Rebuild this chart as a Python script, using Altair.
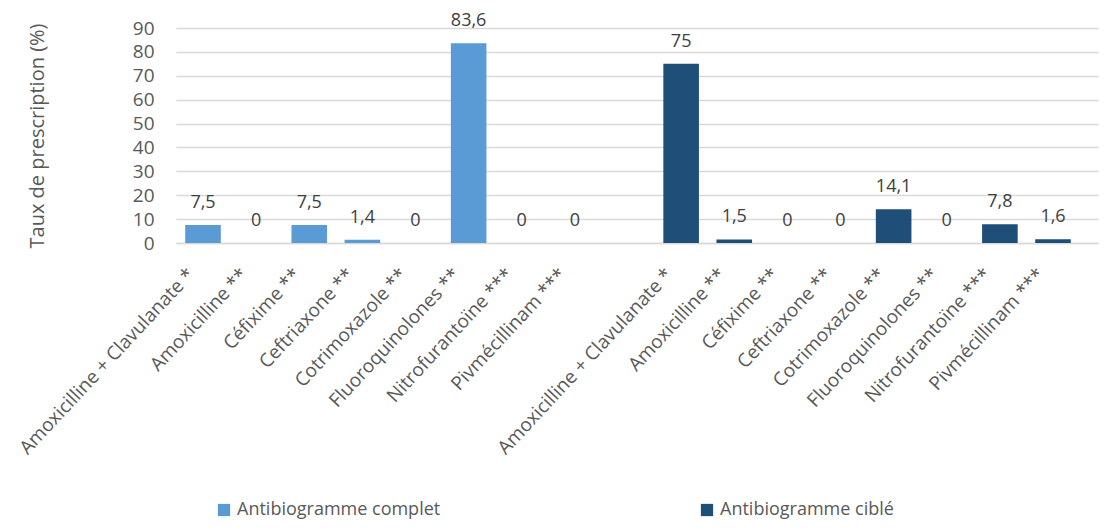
import altair as alt
import pandas as pd

drugs = ["Amoxicilline + Clavulanate *", "Amoxicilline **", "Céfixime **", "Ceftriaxone **",
         "Cotrimoxazole **", "Fluoroquinolones **", "Nitrofurantoïne ***", "Pivmécillinam ***"]
complet_values = [7.5, 0, 7.5, 1.4, 0, 83.6, 0, 0]
cible_values = [75, 1.5, 0, 0, 14.1, 0, 7.8, 1.6]
series_names = ["Antibiogramme complet", "Antibiogramme ciblé"]
series_colors = ["#5B9BD5", "#1F4E79"]
y_ticks = [0, 10, 20, 30, 40, 50, 60, 70, 80, 90]

# second group names carry a zero-width space so that both groups keep their own slot
group2 = [d + "\u200b" for d in drugs]
gap = [" "]
domain = drugs + gap + group2

rows = []
for d, v in zip(drugs, complet_values):
    rows.append({"cat": d, "value": v, "serie": series_names[0]})
for d, v in zip(group2, cible_values):
    rows.append({"cat": d, "value": v, "serie": series_names[1]})
df = pd.DataFrame(rows)

FONT = "Open Sans"
TXT = "#595959"

base = alt.Chart(df).encode(
    x=alt.X("cat:N", scale=alt.Scale(domain=domain, paddingInner=0.33, paddingOuter=0.3427, align=0.253),
            sort=domain,
            axis=alt.Axis(title=None, labelAngle=-47, labelAlign="right", labelBaseline="middle",
                          labelFontSize=19, labelColor=TXT, labelFont=FONT, labelPadding=28,
                          labelOffset=-12,
                          ticks=False, domainColor="#D9D9D9", domainWidth=1.5, labelLimit=400,
                          labelOverlap=False)),
    y=alt.Y("value:Q", scale=alt.Scale(domain=[0, 90]),
            axis=alt.Axis(title="Taux de prescription (%)", values=y_ticks, tickCount=10,
                          labelOverlap=False,
                          titleFontSize=20, titleColor=TXT, titleFont=FONT, titleFontWeight="normal",
                          titlePadding=85,
                          labelFontSize=19, labelColor=TXT, labelFont=FONT, labelPadding=22,
                          ticks=False, domain=False, gridColor="#D9D9D9", gridWidth=1.5)),
)

bars = base.mark_bar().encode(
    color=alt.Color("serie:N", scale=alt.Scale(domain=series_names, range=series_colors),
                    legend=alt.Legend(title=None, orient="none", direction="horizontal",
                                      legendX=39, legendY=473, symbolType="square",
                                      symbolSize=150, symbolStrokeWidth=0,
                                      labelFontSize=18, labelFont=FONT, labelColor=TXT,
                                      columnPadding=257, labelOffset=4, labelLimit=400)),
)

labels = base.mark_text(baseline="middle", dy=-22, fontSize=18, font=FONT, color="#404040").encode(
    text=alt.Text("lab:N"),
).transform_calculate(lab="replace(toString(datum.value), '.', ',')")

chart = (bars + labels).properties(
    width=922, height=215,
    autosize=alt.AutoSizeParams(type="none"),
    padding={"left": 168, "top": 20, "right": 2, "bottom": 280},
).configure_view(stroke=None)

chart.save("out.html", embed_options={"renderer": "svg", "actions": False})
